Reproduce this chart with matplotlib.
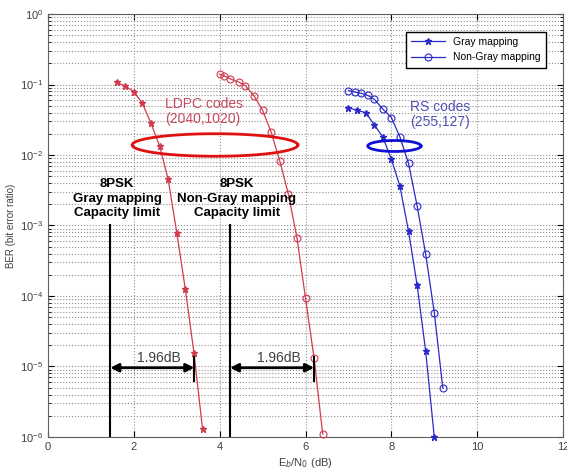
import numpy as np
import matplotlib
matplotlib.use("Agg")
import matplotlib.pyplot as plt
from matplotlib.ticker import LogLocator, NullFormatter, FixedLocator

plt.rcParams['font.family'] = ['Liberation Sans', 'DejaVu Sans']

# ---- data ----
ldpc_gray_x = [1.6, 1.8, 2.0, 2.2, 2.4, 2.6, 2.8, 3.0, 3.2, 3.4, 3.6]
ldpc_gray_ber = [0.107, 0.095, 0.079, 0.054, 0.028, 0.0134, 0.0045, 7.9e-4, 1.24e-4, 1.57e-5, 1.3e-6]

ldpc_ng_x = [4.0, 4.1, 4.25, 4.45, 4.6, 4.8, 5.0, 5.2, 5.4, 5.6, 5.8, 6.0, 6.2, 6.4]
ldpc_ng_ber = [0.14, 0.133, 0.12, 0.108, 0.096, 0.069, 0.043, 0.021, 0.0082, 0.0028, 6.7e-4, 9.3e-5, 1.3e-5, 1.1e-6]

rs_gray_x = [7.0, 7.2, 7.4, 7.6, 7.8, 8.0, 8.2, 8.4, 8.6, 8.8, 9.0]
rs_gray_ber = [0.047, 0.043, 0.040, 0.027, 0.018, 0.0087, 0.0036, 8.3e-4, 1.43e-4, 1.64e-5, 1.0e-6]

rs_ng_x = [7.0, 7.15, 7.3, 7.45, 7.6, 7.8, 8.0, 8.2, 8.4, 8.6, 8.8, 9.0, 9.2]
rs_ng_ber = [0.082, 0.078, 0.075, 0.070, 0.062, 0.045, 0.034, 0.018, 0.0076, 0.0019, 3.9e-4, 5.8e-5, 4.9e-6]

cap_gray = 1.45
cap_nongray = 4.24
gap_db = 1.96

xticks = [0, 2, 4, 6, 8, 10, 12]
yticks = [1e-6, 1e-5, 1e-4, 1e-3, 1e-2, 1e-1, 1e0]

red = '#d23a4e'
blue = '#2a2ac8'

fig = plt.figure(figsize=(5.67, 4.72), dpi=100)
ax = fig.add_axes([0.0847, 0.0742, 0.9083, 0.8961])
ax.set_yscale('log')
ax.set_xlim(0, 12)
ax.set_ylim(1e-6, 1e0)

# curves
ax.plot(ldpc_gray_x, ldpc_gray_ber, color=red, lw=0.9, marker='*', ms=4.5, mfc=red, mec=red, clip_on=False, zorder=3)
ax.plot(ldpc_ng_x, ldpc_ng_ber, color=red, lw=0.9, marker='o', ms=5, mfc='none', mec=red, mew=0.8, clip_on=False, zorder=3)
lg, = ax.plot(rs_gray_x, rs_gray_ber, color=blue, lw=0.9, marker='*', ms=4.5, mfc=blue, mec=blue, clip_on=False, zorder=3)
lng, = ax.plot(rs_ng_x, rs_ng_ber, color=blue, lw=0.9, marker='o', ms=5, mfc='none', mec=blue, mew=0.8, clip_on=False, zorder=3)

# ellipses (drawn in log-space)
t = np.linspace(0, 2*np.pi, 300)
ax.plot(3.89 + 1.93*np.cos(t), 10**(-1.858 + 0.16*np.sin(t)), color='#e01010', lw=2, zorder=4)
ax.plot(8.07 + 0.62*np.cos(t), 10**(-1.872 + 0.078*np.sin(t)), color='#1010d0', lw=2, zorder=4)

# capacity lines
ax.plot([cap_gray, cap_gray], [1e-3, 1e-6], color='black', lw=1.5, zorder=4)
ax.plot([cap_nongray, cap_nongray], [1e-3, 1e-6], color='black', lw=1.5, zorder=4)

# arrows
for c in (cap_gray, cap_nongray):
    ax.annotate('', xy=(c + gap_db, 9.6e-6), xytext=(c, 9.6e-6),
                arrowprops=dict(arrowstyle='<|-|>', color='black', lw=2, mutation_scale=12,
                                shrinkA=0, shrinkB=0), zorder=5)
    ax.plot([c + gap_db, c + gap_db], [10**-4.86, 10**-5.2], color='black', lw=1.5, zorder=5)
    ax.text(c + gap_db/2 + 0.15, 10**-4.88, '1.96dB', ha='center', va='center', fontsize=10, color='#404040')

# labels
ax.text(1.61, 10**-2.62, '8PSK\nGray mapping\nCapacity limit', ha='center', va='center',
        fontsize=9.5, fontweight='bold', linespacing=1.3)
ax.text(4.4, 10**-2.62, '8PSK\nNon-Gray mapping\nCapacity limit', ha='center', va='center',
        fontsize=9.5, fontweight='bold', linespacing=1.3)
ax.text(2.72, 10**-1.38, 'LDPC codes\n(2040,1020)', ha='left', va='center', fontsize=10,
        color='#c84a60', linespacing=1.1)
ax.text(8.43, 10**-1.42, 'RS codes\n(255,127)', ha='left', va='center', fontsize=10,
        color='#5050b8', linespacing=1.1)

# ticks/grid
ax.xaxis.set_major_locator(FixedLocator(xticks))
ax.yaxis.set_major_locator(FixedLocator(yticks))
ax.yaxis.set_minor_locator(LogLocator(base=10, subs=np.arange(2, 10), numticks=20))
ax.yaxis.set_minor_formatter(NullFormatter())
ax.tick_params(which='both', direction='in', top=True, right=True, labelsize=8, labelcolor='#404040')
ax.tick_params(which='major', length=4)
ax.tick_params(which='minor', length=2)
ax.grid(True, which='major', ls=':', color='#909090', lw=0.8)
ax.grid(True, which='minor', axis='y', ls=':', color='#909090', lw=0.8)
for s in ax.spines.values():
    s.set_color('#606060')

ax.set_xlabel(r'E$_b$/N$_0$ (dB)', fontsize=8, color='#404040', labelpad=3)
ax.set_ylabel('BER (bit error ratio)', fontsize=7, color='#404040', labelpad=3)

ax.legend([lg, lng], ['Gray mapping', 'Non-Gray mapping'], loc='upper right', fontsize=7.5,
          frameon=True, fancybox=False, edgecolor='black', framealpha=1, borderpad=0.5,
          handlelength=3.2, bbox_to_anchor=(0.977, 0.97))

fig.savefig('out.png', dpi=100)
